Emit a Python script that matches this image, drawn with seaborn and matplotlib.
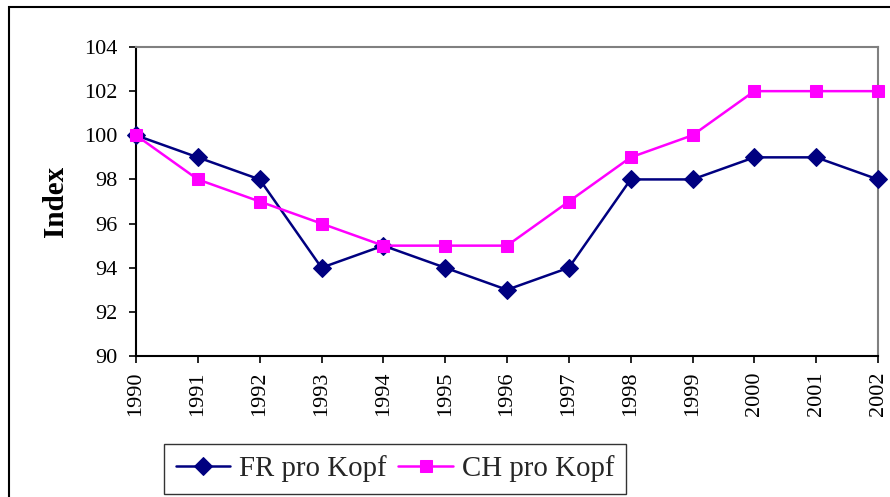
import matplotlib
matplotlib.use("Agg")
import matplotlib.pyplot as plt
import seaborn as sns
import pandas as pd
from matplotlib.patches import Rectangle

years = [1990, 1991, 1992, 1993, 1994, 1995, 1996, 1997, 1998, 1999, 2000, 2001, 2002]
fr_pro_kopf = [100, 99, 98, 94, 95, 94, 93, 94, 98, 98, 99, 99, 98]
ch_pro_kopf = [100, 98, 97, 96, 95, 95, 95, 97, 99, 100, 102, 102, 102]
series_names = ["FR pro Kopf", "CH pro Kopf"]
y_ticks = [90, 92, 94, 96, 98, 100, 102, 104]

sns.set_style("white")
plt.rcParams['font.family'] = ['Liberation Serif', 'DejaVu Serif']

fig = plt.figure(figsize=(8.9, 4.97), dpi=100)
ax = fig.add_axes([136/890, 1-356/497, (878-136)/890, (356-47)/497])

df_fr = pd.DataFrame({"Jahr": years, "Wert": fr_pro_kopf})
df_ch = pd.DataFrame({"Jahr": years, "Wert": ch_pro_kopf})

sns.lineplot(data=df_fr, x="Jahr", y="Wert", ax=ax, color="#000080", lw=1.8,
             marker="D", markersize=9.5, markeredgecolor="#000080", label=series_names[0],
             clip_on=False, zorder=3)
sns.lineplot(data=df_ch, x="Jahr", y="Wert", ax=ax, color="#FF00FF", lw=1.8,
             marker="s", markersize=8.5, markeredgecolor="#FF00FF", label=series_names[1],
             clip_on=False, zorder=4)

ax.set_xlim(years[0], years[-1])
ax.set_ylim(90, 104)
ax.set_yticks(y_ticks)
ax.set_xticks(years)
ax.set_xticklabels([str(y) for y in years], rotation=90)
ax.tick_params(axis="both", which="both", direction="out", length=5, width=1.2,
               color="black", labelsize=16, labelcolor="black", bottom=True, left=True)
ax.tick_params(axis="x", pad=6)
ax.tick_params(axis="y", pad=8)
ax.set_xlabel("")
ax.set_ylabel("Index", fontsize=21, fontweight="bold", labelpad=11, color="black")

for side in ["left", "bottom"]:
    ax.spines[side].set_color("black")
    ax.spines[side].set_linewidth(1.5)
for side in ["top", "right"]:
    ax.spines[side].set_color("#808080")
    ax.spines[side].set_linewidth(1.5)

leg = ax.legend(loc="center", bbox_to_anchor=(395/890, 1-469/497), bbox_transform=fig.transFigure,
                ncol=2, frameon=True, fancybox=False, fontsize=20.8, handlelength=1.9,
                columnspacing=0.4, handletextpad=0.3, borderpad=0.4, borderaxespad=0)
leg.get_frame().set_edgecolor("black")
leg.get_frame().set_linewidth(1.0)

top = 1 - 7/497
fig.patches.append(Rectangle((9/890, -0.1), 1.2, top + 0.1, transform=fig.transFigure,
                             fill=False, edgecolor="black", linewidth=1.5))

fig.savefig("out.png", dpi=100)
